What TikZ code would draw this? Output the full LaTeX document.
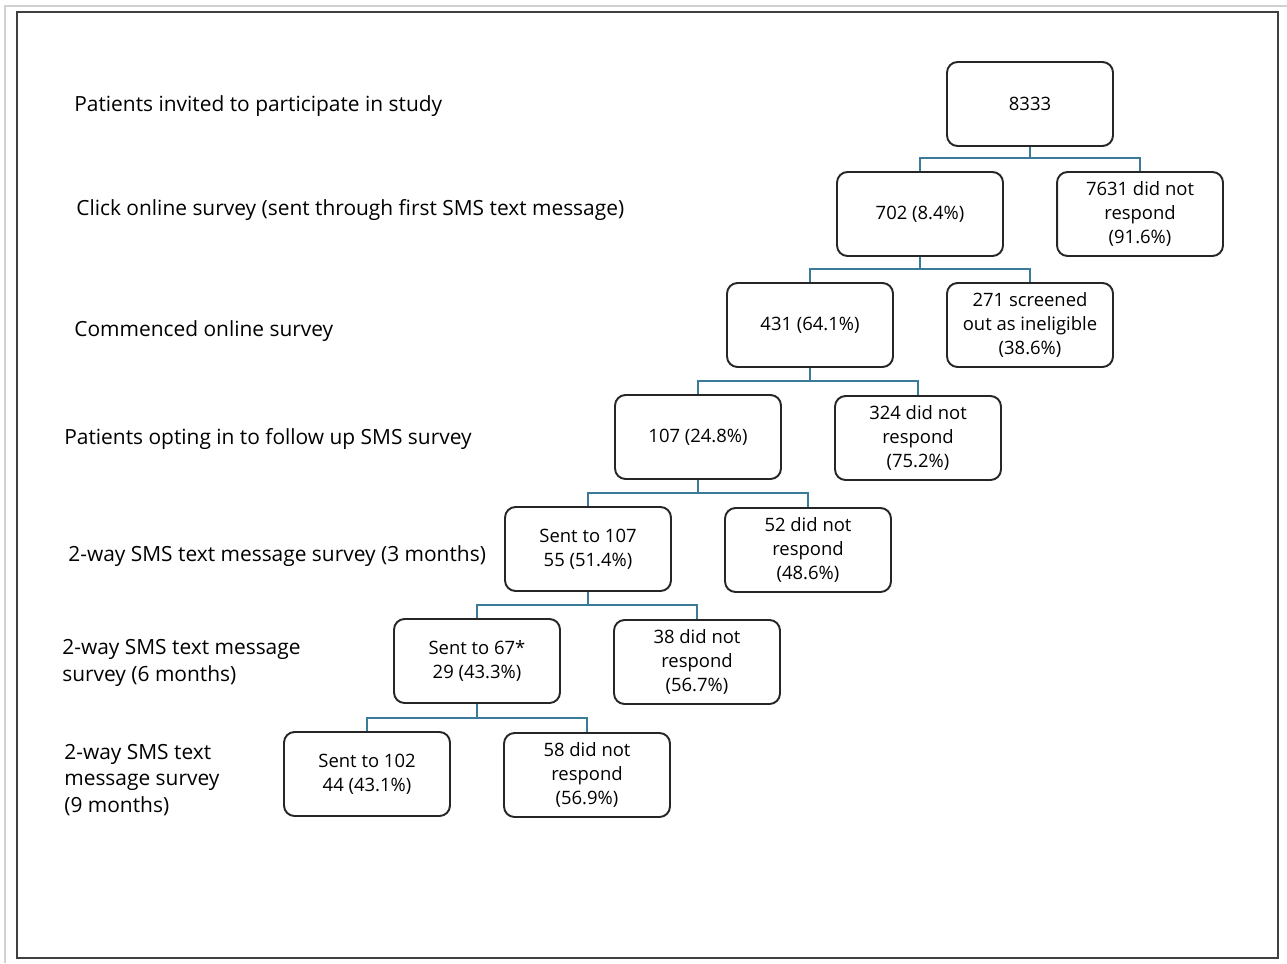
\documentclass[tikz,border=0pt]{standalone}
\usepackage{fontspec}
\setmainfont{Open Sans}
\begin{document}
\begin{tikzpicture}[x=0.02cm,y=-0.02cm,
  bx/.style={draw=black!85,line width=1.1pt,rounded corners=6pt,minimum width=3.32cm,minimum height=1.68cm,align=center,font=\fontsize{10.5}{13.6}\selectfont,inner sep=0pt},
  lab/.style={anchor=west,align=left,font=\fontsize{11.9}{15.2}\selectfont,inner sep=0pt},
  cn/.style={draw=conn,line width=1pt}]
\definecolor{conn}{HTML}{3B7A99}
\useasboundingbox (0,0) rectangle (1287,963);
\draw[black!18,line width=1.2pt] (5,963) -- (5,6) -- (1287,6);
\draw[black!75,line width=1.3pt] (17,12) rectangle (1278,958);
\node[bx] (a) at (1030,104) {8333};
\node[bx] (b) at (920,214) {702 (8.4\%)};
\node[bx] (b2) at (1140,214) {7631 did not\\respond\\(91.6\%)};
\node[bx] (c) at (810,325) {431 (64.1\%)};
\node[bx] (c2) at (1030,325) {271 screened\\out as ineligible\\(38.6\%)};
\node[bx] (d) at (698,437) {107 (24.8\%)};
\node[bx] (d2) at (918,438) {324 did not\\respond\\(75.2\%)};
\node[bx] (e) at (588,549) {Sent to 107\\55 (51.4\%)};
\node[bx] (e2) at (808,550) {52 did not\\respond\\(48.6\%)};
\node[bx] (f) at (477,661) {Sent to 67*\\29 (43.3\%)};
\node[bx] (f2) at (697,662) {38 did not\\respond\\(56.7\%)};
\node[bx] (g) at (367,774) {Sent to 102\\44 (43.1\%)};
\node[bx] (g2) at (587,775) {58 did not\\respond\\(56.9\%)};
\foreach \p/\l/\r/\m in {a/b/b2/158,b/c/c2/269,c/d/d2/381,d/e/e2/493,e/f/f2/605,f/g/g2/718}{
  \draw[cn] (\p.south) -- (\p.south |- 0,\m);
  \draw[cn] (\l.north) -- (\l.north |- 0,\m) -- (\r.north |- 0,\m) -- (\r.north);
}
\node[lab] (l1) at (74,106) {Patients invited to participate in study};
\node[lab] (l2) at (76,210) {Click online survey (sent through first SMS text message)};
\node[lab] (l3) at (74,331) {Commenced online survey};
\node[lab] (l4) at (64,439) {Patients opting in to follow up SMS survey};
\node[lab] (l5) at (68,556) {2-way SMS text message survey (3 months)};
\node[lab] (l6) at (62,663) {2-way SMS text message\\survey (6 months)};
\node[lab] (l7) at (64,780) {2-way SMS text\\message survey\\(9 months)};
\end{tikzpicture}
\end{document}
